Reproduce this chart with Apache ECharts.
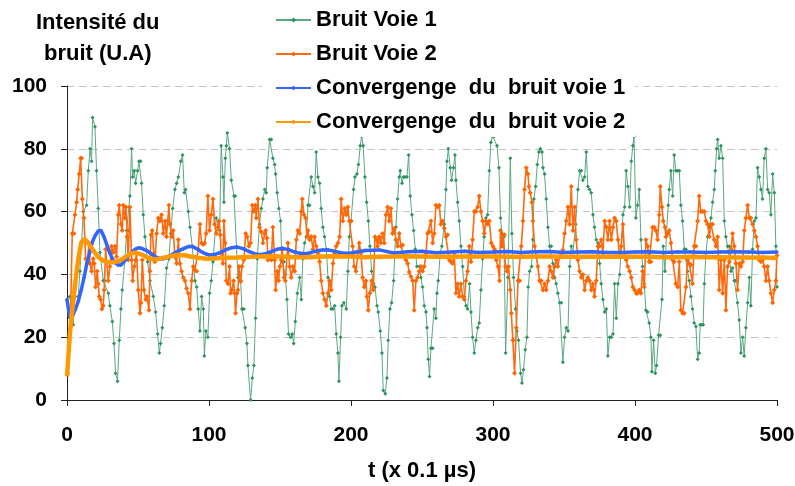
<!DOCTYPE html>
<html>
<head>
<meta charset="utf-8">
<script src="https://cdn.jsdelivr.net/npm/echarts@6/dist/echarts.min.js"></script>
<style>
  html, body { margin: 0; padding: 0; background: #fff; }
  #chart { width: 795px; height: 486px; }
</style>
</head>
<body>
<div id="chart"></div>
<script>
// Time ticks (x 0.1 µs) and intensity ticks (arbitrary units)
const xTicks = [0, 100, 200, 300, 400, 500];
const yTicks = [0, 20, 40, 60, 80, 100];

const seriesNames = [
  'Bruit Voie 1',
  'Bruit Voie 2',
  'Convergenge  du  bruit voie 1',
  'Convergenge  du  bruit voie 2'
];

// Noise samples, channel 1: [t, intensity]
const bruitVoie1 = [[0,32],[2,33],[4.4,24],[5.6,33],[7.9,33],[9.1,41],[11.5,60],[13.8,62],[15,73],[16.2,80],[17.3,76],[18,90],[19.7,87],[20.8,73],[22,61],[23.2,47],[25.5,38],[26.7,38],[29.1,34],[30.2,30],[31.9,25],[33.1,18],[34.2,8.5],[35.6,6],[36.8,19],[38,29],[38.9,35],[40.8,45],[42,54],[43.1,54],[44.3,65],[45.5,80],[46.2,71],[47.4,73],[48.3,69],[49.7,73],[50.7,76],[51.8,76],[52.5,69],[53.7,59],[54.9,52],[56.8,44],[58.4,38],[60.8,33],[62.4,28],[63.8,21],[65,15],[65.9,18],[67.1,23],[68.5,30],[70.1,42],[71.8,45],[73,53],[74.4,61],[76,67],[77.2,69],[78.4,71],[80.2,76],[81.4,78],[82.6,66],[83.5,67],[85.4,60],[86.6,55],[88.2,49],[90.1,38],[91.3,36],[92.4,29],[93.6,22],[94.8,33],[96,29],[96.7,14],[97.8,22],[99.2,20],[100.4,34],[101.6,38],[102.8,44],[105.1,58],[107.5,54],[108.6,81],[109.8,71],[110.5,63],[111.5,77],[112.2,81],[112.9,85],[114.5,80],[115.7,70],[117.6,65],[118.5,65],[120.4,39],[122.3,38],[123.2,29],[124.6,29],[125.5,23],[126.7,18],[127.4,11],[129.3,0],[130.5,7],[131.6,11],[132.8,26],[134,45],[135.6,56],[136.8,61],[138,64],[139.2,67],[140.3,66],[141,74],[142.7,83],[143.9,83],[145,77],[146.2,75],[146.9,72],[148,66],[149.2,61],[150.4,57],[151.4,44],[152.8,44],[153.7,40],[154.9,32],[156,21],[157.5,20],[158.6,21],[159.6,18],[160.8,25],[162.2,34],[163.8,39],[165,32],[166.1,45],[167.3,50],[168.5,52],[169.7,62],[170.8,62],[172,71],[173.2,68],[174.4,66],[175.5,79],[176.7,71],[177.9,69],[179,61],[180.2,55],[181.4,52],[182.6,48],[183.8,39],[184.9,33],[186.1,29],[187.3,29],[188.5,30],[189.6,21],[190.8,15],[191.5,6],[192.7,20],[193.6,30],[195,31],[196.7,29],[197.8,41],[198.8,52],[200,57],[201.8,67],[202.8,71],[204.2,72],[205.3,75],[206.5,81],[207.5,84],[208.6,81],[209.8,71],[211,63],[212.2,57],[213.3,49],[214.5,41],[215.9,37],[216.9,36],[218.3,30],[219.2,28],[220.6,22],[221.8,15],[222.7,3],[224.1,2],[225.3,7],[226.2,19],[227.4,29],[228.6,31],[230,38],[231.6,55],[232.8,64],[234,71],[234.7,73],[235.9,69],[237,71],[238,71],[239.4,71],[240.6,78],[241.7,65],[242.9,59],[244.1,54],[245.3,48],[246.4,42.5],[248.1,42.5],[249.2,39],[250.4,36],[251.6,30],[252.8,28],[253.5,23],[254.4,13],[255.3,7.5],[256.3,16.5],[257.5,16.5],[258.6,29],[259.8,26],[260.5,34],[261.4,38],[262.9,47],[264,49],[265.7,56],[266.8,67],[267.6,76],[268.5,80],[269.9,74],[270.8,70],[272.2,74],[273.2,78],[273.9,70],[275.1,63],[276.2,57],[277.4,49],[278.6,42.5],[279.8,33],[281,30],[282.1,29],[283.5,37],[284.5,28],[285.6,20],[286.8,15],[288,19],[289.2,23],[290.3,24.5],[291.5,35],[292.7,45],[293.8,52],[295,58],[296.2,59],[297.4,73],[298.5,82],[299.7,84],[300.9,84],[302.8,81],[304.2,74],[305.3,58],[306.3,53],[307.7,52],[308.9,15],[310.5,39],[312.2,77],[313.3,53],[314.5,39],[315.9,29],[316.8,22],[318,19],[319.4,8.5],[320.4,5.4],[321.5,9.6],[322.7,16],[323.9,20],[324.8,36],[325.8,41],[327.2,42.5],[328.1,51],[328.8,64],[330,68],[331.2,75],[332.3,79],[333.3,80],[334.5,79],[335.2,74],[336.3,72],[337.5,64],[338.7,55],[339.9,49],[341,49],[342.2,43.5],[343.4,39],[344.5,37],[345.7,34],[346.9,31],[348.1,31],[349.2,12],[350.4,20],[351.6,23],[352.8,22],[354,42.5],[355.1,49],[356.3,47],[358.2,56],[359.8,67],[361,73],[362.2,73],[363.3,70],[364.5,71],[365.7,79],[366.8,68],[368,67],[369.2,66],[370.4,59],[371.5,55],[372.7,51],[373.9,50],[375.1,43.5],[376.2,37],[377.4,32],[378.6,28],[379.8,29],[380.9,14],[382.1,20],[383.3,20],[384.5,21],[385.6,37],[386.8,26],[388,37],[389.2,40],[390.3,49],[391.5,59],[392.7,61.5],[393.8,73],[395,68],[396.2,61.5],[397.4,76],[398.5,81],[399.3,84],[400.6,58],[401.8,62],[403,67],[404.2,51],[405.3,42.5],[406.5,37],[407.7,28.6],[408.9,28],[410,24.5],[411.2,20],[411.9,9],[413.1,19],[414.3,8.5],[415.2,11],[416.6,20.6],[417.8,20.6],[419,32],[419.9,49],[421.1,41],[422.2,53],[423.4,62],[424.1,67],[425.3,73],[426.5,65],[427.6,78],[428.8,73],[430,73],[431.2,73],[432.3,62],[433.5,57],[434.7,48],[435.9,48],[437,41],[438.2,38],[439.4,33],[440.5,29],[441.7,24.5],[442.9,23.4],[444.1,13],[445.2,15],[445.9,24],[447,24],[448,24],[448.8,37],[450,47],[451.1,52],[452.3,55],[453.5,58],[454.6,63],[455.8,67],[456.5,73],[457.5,80],[458.2,83],[459.3,77],[460.5,81],[461.7,77],[462.9,57],[464,52],[465.2,49],[466.4,49],[467.6,41],[468.7,42],[469.9,38],[471,38],[472.2,31],[473.4,25.5],[474.6,15],[475.8,20],[476.9,14],[478.1,23],[479.3,31],[480.5,39],[481.6,30],[482.8,48],[484,57],[485.2,58],[486.3,74],[487.5,71],[488.7,67],[489.8,64],[491,77],[492.2,80],[493.4,67],[494.5,66],[495.7,59],[496.9,72],[498.1,66],[499.2,49],[500,36]];

// Noise samples, channel 2: [t, intensity]
const bruitVoie2 = [[0.4,8.5],[1.4,19],[2.5,28],[3.7,53],[4.9,53],[5.6,59],[6.8,63],[7.5,67],[8.6,72],[9.6,77],[10.3,77],[10.8,64],[11.9,58],[12.6,51],[13.1,45],[14.5,44],[15.4,50],[16.2,43.5],[17.3,41],[18.5,45],[19.2,43.5],[20.1,36],[21.3,41],[22,37],[22.7,33],[23.7,32],[24.6,29],[25.5,30],[26.2,35],[27.2,48],[28.4,48],[29.1,38],[30.2,42.5],[31.4,49],[32.6,47],[33.8,49],[34.9,45.6],[36.1,59],[36.8,62],[38,56],[38.9,54],[39.6,62],[40.8,58],[41.5,61.5],[42.4,52],[43.1,44.6],[44.3,61.5],[45.5,44.6],[46.2,38],[47.4,42.5],[48.3,44.6],[49,46.7],[50.2,35],[51.4,27.6],[52.1,31],[53,44.6],[54.2,35],[55.4,32],[56.3,33],[57.7,28.6],[58.4,41],[59.1,52.6],[60,54],[61.2,46.7],[61.9,44],[63.1,53],[64.3,58],[65.4,57],[66.6,59],[67.8,53],[69,57],[70.1,52],[70.9,57],[71.8,62],[72.5,56],[73.7,52],[74.8,54],[76,45.6],[77.2,43.5],[78.4,51],[79.5,43.5],[80.7,41],[81.9,39],[83.1,38],[84.2,35.5],[85.4,34],[86.6,29],[87.8,38],[88.9,42.5],[90.1,41.4],[91.3,41],[92.4,48],[93.6,56],[94.8,50],[96,49.5],[96.9,50],[98,53],[99.2,65],[100.4,54],[101.6,59],[102.8,64],[103.9,56],[105.1,53],[106.3,55],[107,57],[107.9,52.6],[108.6,46.7],[109.8,43.5],[110.5,57],[111.4,50],[112.2,38],[113.3,37],[114.5,42.5],[115.2,34],[116.1,35],[117.3,38],[118,34],[118.7,27.6],[119.7,34],[120.4,35],[121.1,42.5],[122.3,37.7],[123.2,42.5],[124.6,44.6],[125.8,53],[126.9,52],[128.1,49],[129.3,50],[130.5,62],[131.4,60],[132.6,62],[133.3,58],[134.5,64],[135.6,55],[136.8,53.6],[138,50],[139.2,53],[139.9,54],[140.8,51.5],[141.5,44.6],[142.7,46.7],[143.9,44.6],[145,55],[146.2,44.6],[146.9,35],[148.1,41],[149,38],[149.9,42.5],[150.9,44.6],[151.6,47.8],[152.8,39],[153.7,38],[154.9,45.6],[155.6,50],[156.8,42.5],[157.9,39],[159.1,42.5],[160.3,41],[161.5,51],[162.6,54],[163.8,53],[165,60],[165.7,64],[166.9,59],[168,58],[169,52],[169.7,54],[170.8,51],[172,52],[173.2,48],[174.4,52],[175.5,49],[176.7,46.7],[177.9,44],[179,38],[180.2,34],[181.4,32],[182.6,30],[183.8,34],[184.9,38],[186.1,35],[187.3,43.5],[188.5,46.7],[189.6,49],[190.8,50],[192,52],[193.1,64],[194.3,57],[195.5,61],[196.7,59],[197.8,61.5],[198.8,57],[200.2,57],[201.1,49],[202.3,42.5],[203.5,41],[204.6,45.6],[205.8,50],[207,46.7],[208.2,39],[209.3,36],[210.5,38],[211.2,33],[212.2,28.6],[213.3,34],[214.5,38],[215.7,35],[216.9,52],[218,51],[218.7,49],[219.9,52],[221,50],[222.2,53],[223.4,50],[224.6,59],[225.8,61.5],[226.9,57],[228.1,61],[229.3,53],[230.5,54.7],[231.6,51],[232.8,49],[234,53],[235.2,49],[236.3,49.4],[237.5,45.6],[238.7,44.6],[239.9,43.5],[241,40.8],[242.2,39.3],[243.4,38],[244.5,28.6],[245.7,38],[246.9,39],[248,41],[249.2,42.5],[250.4,41],[251.6,42.5],[252.8,46.7],[253.9,53],[255.1,53.6],[256.3,57],[257.5,50],[258.6,53],[259.8,62],[261,61.5],[262.2,62],[263.3,56],[264.5,57],[265.7,54.7],[266.8,52],[268,52.6],[269.2,44.6],[270.4,44],[271.5,43.5],[272.7,46.7],[273.9,34],[275.1,37],[276.2,33],[277.4,37],[278.6,33],[279.8,32],[280.9,38],[282.1,41],[283.3,49],[284.5,44],[285.6,51],[286.8,60],[288,60],[289.2,61.5],[290.3,65],[291.5,60],[292.7,57],[293.8,53],[295,57],[296.2,56],[297.4,57],[298.8,50],[299.9,49],[301.1,48],[302.3,44.6],[303.5,42.5],[304.6,38],[305.3,54],[306.3,49],[307,52.6],[308,52.6],[308.9,42.5],[309.8,41],[311,42.5],[312.2,35],[312.9,27.6],[314,19],[315.2,8.5],[316.4,23],[317.6,38],[318.8,38],[319.9,49],[321.1,57],[322.2,67],[323.4,74],[324.6,72],[325.3,68],[326.2,66],[327.4,63],[328.1,57],[329.3,49],[330.5,45.6],[331.6,42.5],[332.8,38],[334,38],[335.2,35],[336.3,37],[337.5,35],[338.7,38],[339.9,42.5],[341,41],[342.2,39],[343.4,42.5],[344.5,44.6],[345.7,42.5],[346.9,45.6],[348.1,46.7],[349.2,47.8],[350.4,53],[351.6,57],[352.8,61.5],[354,56],[355.1,68],[356.3,54],[357.5,61.5],[358.6,51],[359.8,44.6],[361,41],[362.2,39],[363.3,40],[364.5,35],[365.7,38],[366.8,39],[368,38],[369.2,35],[370.4,37],[371.5,33],[372.7,38],[373.9,49],[375.1,49],[376.2,51],[377.4,46.7],[378.6,57],[379.8,55],[380.9,51],[382.1,57],[383.3,51],[384.5,55],[385.6,58],[386.8,57],[388,51],[389.2,45.6],[390.3,49],[391.5,56],[392.7,45.6],[393.8,44.6],[395,42.5],[396.2,41],[397.4,39],[398.5,36],[399.7,35],[400.9,34],[401.8,34],[403,35],[404.2,34],[405.3,41],[406.5,36],[407.7,51],[408.9,49],[410,44],[411.2,44],[412.4,55],[413.5,55],[414.7,54],[415.9,51],[417.1,59],[417.8,68],[419,61.5],[419.9,57],[421.1,55],[421.8,52],[423,53],[424.1,54],[425.3,50],[426.5,44.6],[427.6,44],[428.8,37],[430,36],[431.2,44],[432.3,28.6],[433.5,27.6],[434.7,27.6],[435.9,36],[437,44.6],[438.2,43.5],[439.4,43],[440.5,37],[441.7,49],[442.9,49],[444.1,57],[445.2,65],[446.4,60],[447.6,60],[448.8,60],[450,57],[451.1,56],[452.3,52],[453.5,56],[454.6,56],[455.8,51],[457,49],[458.2,52],[459.3,35],[460.5,44.6],[461.7,34],[462.9,44.6],[464,28.6],[465.2,42.5],[466.4,44],[467.6,48],[468.7,53],[469.9,49],[471.1,43.5],[472.2,35],[473.4,43.5],[474.6,42.5],[475.8,44],[477,54],[478.1,58],[479.3,62],[480.5,58],[481.6,58],[482.8,56],[484,54],[485.2,52],[486.3,49],[487.5,44.6],[488.7,44],[489.8,44.6],[491,42.5],[492.2,38],[493.4,42.5],[494.5,38],[495.7,34],[496.9,31],[498.1,35],[499.2,38],[500,46]];

// Running convergence of the channel 1 noise level: [t, intensity]
const convVoie1 = [[0,32],[2,26],[4,27],[6,29],[8,31.5],[10,35],[12,39],[14,43.5],[16,47],[18,50.5],[20,52.5],[22,53.8],[24,54],[26,52],[28,49.5],[30,47],[32,45],[34,43.7],[36,43],[38,43],[40,44],[42,45],[44,46.3],[46,47.3],[48,48],[50,48.4],[52,48.4],[54,48],[56,47.6],[58,47],[60,46.3],[62,45.7],[64,45.3],[66,45],[68,45],[70,45.3],[72,45.8],[74,46.3],[76,46.9],[78,47.4],[80,47.8],[82,48.2],[84,48.6],[86,48.9],[88,48.9],[90,48.5],[92,48],[94,47.4],[96,46.9],[98,46.5],[100,46.2],[104,46.3],[108,47],[112,47.9],[116,48.5],[120,48.7],[124,48.2],[128,47.3],[132,46.6],[136,46.3],[140,46.6],[144,47.3],[148,48],[152,48.3],[156,47.9],[160,47.2],[164,46.7],[168,46.6],[172,47],[176,47.5],[180,47.8],[184,47.8],[188,47.4],[192,47],[196,46.7],[200,46.8],[210,47.6],[220,47.8],[230,46.8],[240,47.2],[250,47.4],[260,46.9],[270,47.1],[280,47.4],[290,47],[300,47.1],[310,47.3],[320,47],[330,47.2],[340,47.3],[350,47],[360,47.1],[370,47.2],[380,47],[390,47],[400,47.1],[410,47.2],[420,47],[430,47.1],[440,47.1],[450,47],[460,47.1],[470,47.2],[480,47.1],[490,47],[500,47.1]];

// Running convergence of the channel 2 noise level: [t, intensity]
const convVoie2 = [[0,7.5],[2,21],[4,30],[6,38],[8,45],[10,50],[12,51.3],[14,50.5],[16,49.3],[18,48],[20,46.7],[22,45.6],[24,44.8],[26,44.3],[28,44],[30,43.9],[32,43.9],[34,44],[36,44.2],[38,44.6],[40,45.2],[42,45.8],[44,46.4],[46,46.8],[48,46.9],[50,46.7],[52,46.4],[54,46],[56,45.5],[58,45.1],[60,44.9],[62,44.8],[64,44.9],[66,45.1],[68,45.3],[70,45.5],[72,45.7],[74,45.9],[76,46.1],[78,46.2],[80,46.2],[82,46.1],[84,46],[86,45.8],[88,45.6],[90,45.5],[92,45.3],[94,45.2],[96,45.1],[98,45],[100,45],[110,45.3],[120,45.4],[130,45.6],[140,45.8],[150,45.7],[160,45.5],[170,45.5],[180,45.7],[190,45.8],[200,45.7],[210,45.5],[220,45.6],[230,45.7],[240,45.8],[250,45.7],[260,45.6],[270,45.6],[280,45.7],[290,45.7],[300,45.7],[310,45.6],[320,45.6],[330,45.7],[340,45.7],[350,45.6],[360,45.6],[370,45.6],[380,45.6],[390,45.7],[400,45.6],[410,45.6],[420,45.5],[430,45.5],[440,45.6],[450,45.5],[460,45.5],[470,45.4],[480,45.4],[490,45.4],[500,45.2]];

const FONT = '"Liberation Sans", Arial, sans-serif';

const chart = echarts.init(document.getElementById('chart'), null, { renderer: 'canvas' });

chart.setOption({
  animation: false,
  backgroundColor: '#ffffff',
  grid: {
    left: 67, right: 18, top: 86, bottom: 86,
    containLabel: false,
    outerBoundsMode: 'none'
  },
  xAxis: {
    type: 'value',
    min: xTicks[0],
    max: xTicks[xTicks.length - 1],
    interval: xTicks[1] - xTicks[0],
    name: 't (x 0.1 \u00b5s)',
    nameLocation: 'middle',
    nameGap: 60,
    nameTextStyle: { fontFamily: FONT, fontWeight: 'bold', fontSize: 22, color: '#000' },
    axisLine: { show: true, onZero: false, lineStyle: { color: '#222', width: 1 } },
    axisTick: { show: true, length: 6, lineStyle: { color: '#222' } },
    axisLabel: { margin: 25, fontFamily: FONT, fontWeight: 'bold', fontSize: 21, color: '#000' },
    splitLine: { show: false }
  },
  yAxis: {
    type: 'value',
    min: yTicks[0],
    max: yTicks[yTicks.length - 1],
    interval: yTicks[1] - yTicks[0],
    axisLine: { show: true, lineStyle: { color: '#222', width: 1 } },
    axisTick: { show: true, length: 6, lineStyle: { color: '#222' } },
    axisLabel: { margin: 20, fontFamily: FONT, fontWeight: 'bold', fontSize: 21, color: '#000' },
    splitLine: { show: true, lineStyle: { color: '#c4c4c4', type: [7, 5], width: 1 } }
  },
  legend: {
    orient: 'vertical',
    left: 262,
    top: 5,
    padding: [3, 10, 3, 13],
    itemWidth: 35,
    itemHeight: 6,
    itemGap: 10,
    backgroundColor: '#ffffff',
    data: seriesNames,
    textStyle: { fontFamily: FONT, fontWeight: 'bold', fontSize: 22, lineHeight: 24, color: '#000' }
  },
  graphic: [{
    type: 'text',
    left: 36,
    top: 7,
    z: 10,
    style: {
      text: 'Intensit\u00e9 du\nbruit (U.A)',
      font: 'bold 22px ' + FONT,
      fill: '#000',
      textAlign: 'center',
      lineHeight: 31
    }
  }],
  series: [
    {
      name: seriesNames[0],
      type: 'line',
      data: bruitVoie1,
      symbol: 'diamond',
      symbolSize: 4,
      showSymbol: true,
      itemStyle: { color: '#2e9160' },
      lineStyle: { color: '#5aa882', width: 1 },
      z: 2
    },
    {
      name: seriesNames[1],
      type: 'line',
      data: bruitVoie2,
      symbol: 'diamond',
      symbolSize: 5,
      showSymbol: true,
      itemStyle: { color: '#ff6600' },
      lineStyle: { color: '#ff6a10', width: 1.6 },
      z: 3
    },
    {
      name: seriesNames[2],
      type: 'line',
      data: convVoie1,
      symbol: 'diamond',
      symbolSize: 4,
      showSymbol: true,
      itemStyle: { color: '#3366ff' },
      lineStyle: { color: '#3366ff', width: 3.5 },
      z: 4
    },
    {
      name: seriesNames[3],
      type: 'line',
      data: convVoie2,
      symbol: 'diamond',
      symbolSize: 4,
      showSymbol: false,
      itemStyle: { color: '#ff9900' },
      lineStyle: { color: '#ff9900', width: 4.5 },
      z: 5
    }
  ]
});
</script>
</body>
</html>
